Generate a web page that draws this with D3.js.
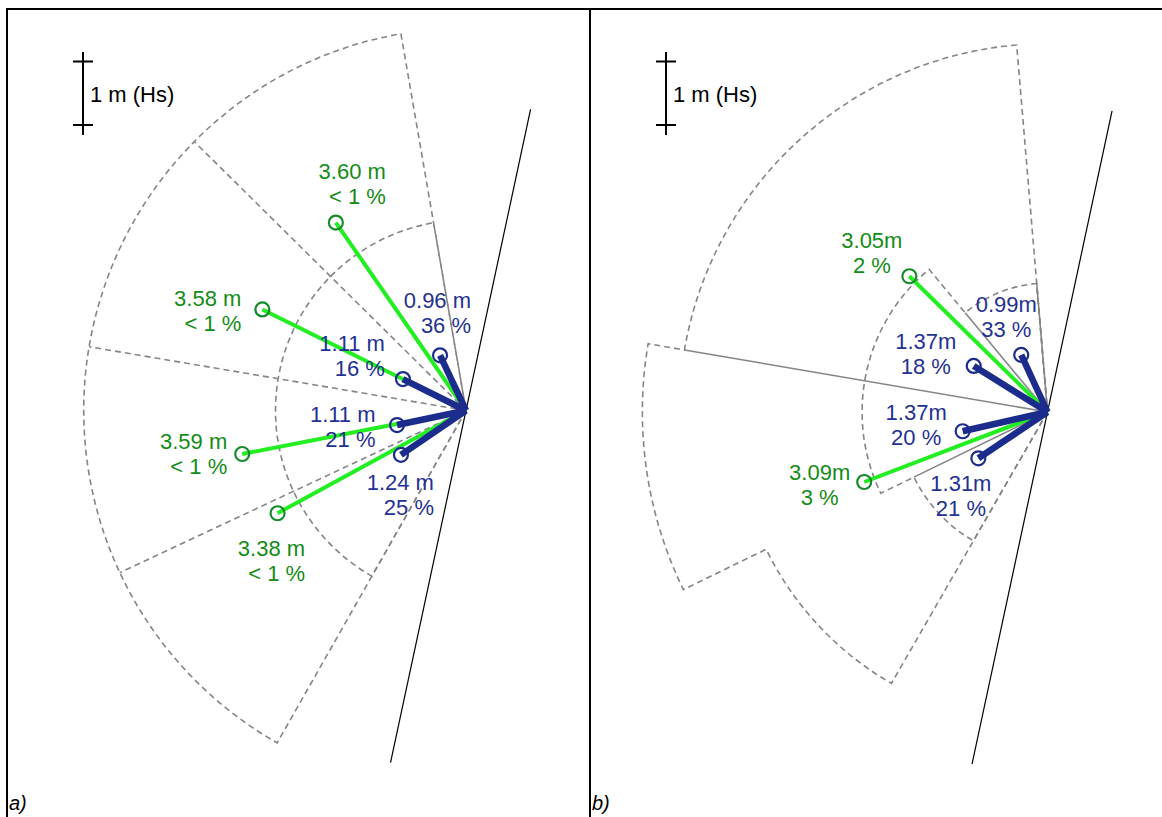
<!DOCTYPE html>
<html>
<head>
<meta charset="utf-8">
<script src="https://cdn.jsdelivr.net/npm/d3@7"></script>
<style>
	body { margin: 0; background: #fff; }
	svg { display: block; font-family: Arial, "Liberation Sans", sans-serif; }
</style>
</head>
<body>
<svg id="chart" width="1162" height="817"></svg>
<script>
// directions in degrees, clockwise from up (north); heights in metres

// a) sector grid
const edgesOuterA = [209.6, 244.9, 279.6, 314.7, 350.2];
const radiiOuterA = [6.02, 6.02, 6.02, 6.02];
const edgesInnerA = [209.6, 244.9, 279.6, 314.7, 350.2];
const radiiInnerA = [3.0, 3.0, 3.0, 3.0];
const dividerDirA = [244.9, 279.6, 314.7];
const dividerLenA = [6.02, 6.02, 6.02];

// a) mean wave vectors
const blueDirA = [334.8, 296.5, 258.1, 235.7];
const blueHsA = [0.96, 1.11, 1.11, 1.24];
const bluePctA = ["36", "16", "21", "25"];
const greenDirA = [325.3, 296.4, 259.0, 241.4];
const greenHsA = [3.60, 3.58, 3.59, 3.38];
const greenPctA = ["< 1", "< 1", "< 1", "< 1"];

// b) sector grid
const edgesOuterB = [209.9, 244.0, 279.7, 355.2];
const radiiOuterB = [4.93, 6.38, 5.80];
const edgesInnerB = [209.9, 244.0, 320.3, 355.2];
const radiiInnerB = [2.34, 2.92, 2.03];
const dividerDirB = [355.2, 320.3, 279.7, 244.0];
const dividerLenB = [2.03, 2.03, 5.80, 2.34];

// b) mean wave vectors
const blueDirB = [335.3, 302.0, 257.2, 236.2];
const blueHsB = [0.99, 1.37, 1.37, 1.31];
const bluePctB = ["33", "18", "20", "21"];
const greenDirB = [314.5, 249.1];
const greenHsB = [3.05, 3.09];
const greenPctB = ["2", "3"];

// shoreline through the point
const coastDir = 12.1;
const coastExtent = [4.85, 5.67];

// scale bar length (m)
const scaleBarHs = 1;

// label placement, px from the circle (right edge or centre, first baseline)
const labelOffBlueA = [[31, -47], [-18, -28], [-21.5, -3], [33, 35]];
const labelOffGreenA = [[50, -43.5], [-21, -3], [-15, -4.5], [27.5, 42.5]];
const labelOffBlueB = [[-15, -43], [-48, -17], [-46.5, -11], [-17.5, 32.5]];
const labelOffGreenB = [[-37.5, -28.5], [-44.5, -2]];

class SectorPanel {
	constructor(_config, _data) {
		this.config = {
			parentElement: _config.parentElement,
			left: _config.left,
			cx: _config.cx,
			cy: _config.cy,
			pxPerMetre: _config.pxPerMetre || 63.5,
			labelAnchor: _config.labelAnchor || "end",
			unit: _config.unit,
			dividerDash: _config.dividerDash,
			tag: _config.tag
		}

		this.data = _data;

		this.initVis();
	}

	initVis() {
		let vis = this;

		vis.r = d3.scaleLinear()
			.domain([0, 1])
			.range([0, vis.config.pxPerMetre]);

		vis.ang = d3.scaleLinear()
			.domain([0, 360])
			.range([0, 2 * Math.PI]);

		vis.svg = d3.select(vis.config.parentElement);

		vis.g = vis.svg.append("g")
			.attr("transform", `translate(${vis.config.cx},${vis.config.cy})`);

		vis.gGrid = vis.g.append("g");
		vis.gVec = vis.g.append("g");
		vis.gLabel = vis.g.append("g")
			.attr("font-size", 22)
			.attr("text-anchor", vis.config.labelAnchor);

		vis.renderVis();
	}

	pt(dir, hs) {
		let vis = this;
		const a = vis.ang(dir), d = vis.r(hs);
		return [Math.sin(a) * d, -Math.cos(a) * d];
	}

	outline(edges, radii) {
		let vis = this;
		const p = d3.path();
		p.moveTo(0, 0);
		radii.forEach((rr, i) => {
			p.arc(0, 0, vis.r(rr), vis.ang(edges[i]) - Math.PI / 2, vis.ang(edges[i + 1]) - Math.PI / 2, false);
		});
		p.closePath();
		return p.toString();
	}

	renderVis() {
		let vis = this;
		const d = vis.data;

		// dashed sector outlines
		vis.gGrid.selectAll("path.sector")
			.data([[d.edgesOuter, d.radiiOuter], [d.edgesInner, d.radiiInner]])
			.join("path")
			.attr("class", "sector")
			.attr("d", s => vis.outline(s[0], s[1]))
			.attr("fill", "none")
			.attr("stroke", "#858585")
			.attr("stroke-width", 1.6)
			.attr("stroke-dasharray", "6,4");

		vis.gGrid.selectAll("line.divider")
			.data(d.dividerDir.map((a, i) => ({dir: a, len: d.dividerLen[i]})))
			.join("line")
			.attr("class", "divider")
			.attr("x1", 0)
			.attr("y1", 0)
			.attr("x2", s => vis.pt(s.dir, s.len)[0])
			.attr("y2", s => vis.pt(s.dir, s.len)[1])
			.attr("stroke", "#858585")
			.attr("stroke-width", 1.6)
			.attr("stroke-dasharray", vis.config.dividerDash);

		// shoreline
		const c1 = vis.pt(coastDir, coastExtent[0]);
		const c2 = vis.pt(coastDir + 180, coastExtent[1]);
		vis.gGrid.append("line")
			.attr("x1", c1[0]).attr("y1", c1[1])
			.attr("x2", c2[0]).attr("y2", c2[1])
			.attr("stroke", "#000")
			.attr("stroke-width", 1.2);

		const blue = d.blueDir.map((a, i) => ({dir: a, hs: d.blueHs[i], pct: d.bluePct[i], off: d.labelOffBlue[i]}));
		const green = d.greenDir.map((a, i) => ({dir: a, hs: d.greenHs[i], pct: d.greenPct[i], off: d.labelOffGreen[i]}));

		vis.gVec.selectAll("line.green")
			.data(green)
			.join("line")
			.attr("class", "green")
			.attr("x1", 0).attr("y1", 0)
			.attr("x2", v => vis.pt(v.dir, v.hs)[0])
			.attr("y2", v => vis.pt(v.dir, v.hs)[1])
			.attr("stroke", "#22ee22")
			.attr("stroke-width", 4);

		vis.gVec.selectAll("line.blue")
			.data(blue)
			.join("line")
			.attr("class", "blue")
			.attr("x1", 0).attr("y1", 0)
			.attr("x2", v => vis.pt(v.dir, v.hs)[0])
			.attr("y2", v => vis.pt(v.dir, v.hs)[1])
			.attr("stroke", "#1b2c8c")
			.attr("stroke-width", 6.5);

		vis.gVec.selectAll("circle.green")
			.data(green)
			.join("circle")
			.attr("class", "green")
			.attr("cx", v => vis.pt(v.dir, v.hs)[0])
			.attr("cy", v => vis.pt(v.dir, v.hs)[1])
			.attr("r", 7)
			.attr("fill", "none")
			.attr("stroke", "#178a2a")
			.attr("stroke-width", 2.2);

		vis.gVec.selectAll("circle.blue")
			.data(blue)
			.join("circle")
			.attr("class", "blue")
			.attr("cx", v => vis.pt(v.dir, v.hs)[0])
			.attr("cy", v => vis.pt(v.dir, v.hs)[1])
			.attr("r", 7)
			.attr("fill", "none")
			.attr("stroke", "#1b2c8c")
			.attr("stroke-width", 2.2);

		const labels = blue.map(v => ({...v, color: "#1f3192"}))
			.concat(green.map(v => ({...v, color: "#138c17"})));

		vis.label = vis.gLabel.selectAll("text")
			.data(labels)
			.join("text")
			.attr("fill", v => v.color)
			.attr("transform", v => {
				const p = vis.pt(v.dir, v.hs);
				return `translate(${p[0] + v.off[0]},${p[1] + v.off[1]})`;
			});

		vis.label.append("tspan")
			.attr("x", 0)
			.attr("y", 0)
			.text(v => v.hs.toFixed(2) + vis.config.unit);

		vis.label.append("tspan")
			.attr("x", 0)
			.attr("y", 24.8)
			.text(v => v.pct + " %");

		// 1 m scale bar
		const bx = vis.config.left + 76, by = 61.5;
		const sb = vis.svg.append("g")
			.attr("stroke", "#000")
			.attr("stroke-width", 2);
		sb.append("line")
			.attr("x1", bx).attr("x2", bx)
			.attr("y1", by - 9.5).attr("y2", by + vis.r(scaleBarHs) + 10);
		[0, scaleBarHs].forEach(h => {
			sb.append("line")
				.attr("x1", bx - 10).attr("x2", bx + 10)
				.attr("y1", by + vis.r(h)).attr("y2", by + vis.r(h));
		});
		vis.svg.append("text")
			.attr("x", bx + 7)
			.attr("y", by + 40)
			.attr("font-size", 22)
			.attr("fill", "#000")
			.text(scaleBarHs + " m (Hs)");

		vis.svg.append("text")
			.attr("x", vis.config.left + 2)
			.attr("y", 810)
			.attr("font-size", 20)
			.attr("font-style", "italic")
			.attr("fill", "#000")
			.text(vis.config.tag);
	}
}

const svg = d3.select("#chart");

// frame
svg.append("g")
	.attr("stroke", "#000")
	.attr("stroke-width", 2)
	.selectAll("line")
	.data([[7, 9, 1162, 9], [7, 8, 7, 817], [590, 8, 590, 817]])
	.join("line")
	.attr("x1", l => l[0]).attr("y1", l => l[1])
	.attr("x2", l => l[2]).attr("y2", l => l[3]);

new SectorPanel({
	parentElement: "#chart", left: 7, cx: 466, cy: 410.5,
	labelAnchor: "end", unit: " m", dividerDash: "6,4", tag: "a)"
}, {
	edgesOuter: edgesOuterA, radiiOuter: radiiOuterA,
	edgesInner: edgesInnerA, radiiInner: radiiInnerA,
	dividerDir: dividerDirA, dividerLen: dividerLenA,
	blueDir: blueDirA, blueHs: blueHsA, bluePct: bluePctA,
	greenDir: greenDirA, greenHs: greenHsA, greenPct: greenPctA,
	labelOffBlue: labelOffBlueA, labelOffGreen: labelOffGreenA
});

new SectorPanel({
	parentElement: "#chart", left: 590, cx: 1047.5, cy: 412,
	labelAnchor: "middle", unit: "m", dividerDash: null, tag: "b)"
}, {
	edgesOuter: edgesOuterB, radiiOuter: radiiOuterB,
	edgesInner: edgesInnerB, radiiInner: radiiInnerB,
	dividerDir: dividerDirB, dividerLen: dividerLenB,
	blueDir: blueDirB, blueHs: blueHsB, bluePct: bluePctB,
	greenDir: greenDirB, greenHs: greenHsB, greenPct: greenPctB,
	labelOffBlue: labelOffBlueB, labelOffGreen: labelOffGreenB
});
</script>
</body>
</html>
